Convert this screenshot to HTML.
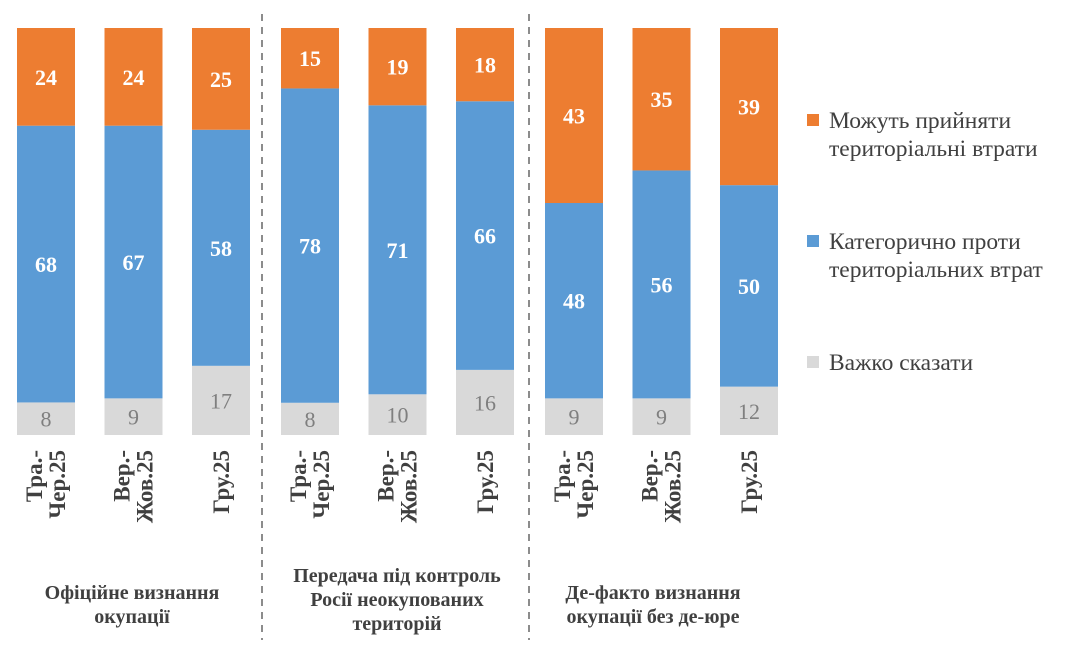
<!DOCTYPE html>
<html><head><meta charset="utf-8"><style>
html,body{margin:0;padding:0;background:#fff;}
svg{display:block;font-family:"Liberation Serif","DejaVu Serif",serif;}
</style></head><body>
<svg id="chart" width="1080" height="672" viewBox="0 0 1080 672">
<g id="bars"></g>
<g id="xlabels"></g>
<line x1="262" y1="14" x2="262" y2="640" stroke="#8c8c8c" stroke-width="2" stroke-dasharray="7,6"/>
<line x1="529" y1="14" x2="529" y2="640" stroke="#8c8c8c" stroke-width="2" stroke-dasharray="7,6"/>
<g font-weight="bold" font-size="20" fill="#404040" text-anchor="middle">
<text x="132" y="599"><tspan x="132">Офіційне визнання</tspan><tspan x="132" dy="24">окупації</tspan></text>
<text x="397" y="582"><tspan x="397">Передача під контроль</tspan><tspan x="397" dy="24">Росії неокупованих</tspan><tspan x="397" dy="24">територій</tspan></text>
<text x="653" y="599"><tspan x="653">Де-факто визнання</tspan><tspan x="653" dy="24">окупації без де-юре</tspan></text>
</g>
<g font-size="23.5" fill="#404040">
<rect x="807" y="114" width="12" height="12" fill="#ED7D31"/>
<text x="829" y="128"><tspan x="829">Можуть прийняти</tspan><tspan x="829" dy="28">територіальні втрати</tspan></text>
<rect x="807" y="235" width="12" height="12" fill="#5B9BD5"/>
<text x="829" y="249"><tspan x="829">Категорично проти</tspan><tspan x="829" dy="28">територіальних втрат</tspan></text>
<rect x="807" y="356" width="12" height="12" fill="#D9D9D9"/>
<text x="829" y="370">Важко сказати</text>
</g>
</svg>
<script>
const categories = ["Тра.-|Чер.25","Вер.-|Жов.25","Гру.25","Тра.-|Чер.25","Вер.-|Жов.25","Гру.25","Тра.-|Чер.25","Вер.-|Жов.25","Гру.25"];
const hardToSay = [8,9,17,8,10,16,9,9,12];
const against = [68,67,58,78,71,66,48,56,50];
const accept = [24,24,25,15,19,18,43,35,39];

const NS="http://www.w3.org/2000/svg";
const barsG=document.getElementById('bars');
const labG=document.getElementById('xlabels');
const plotTop=28, plotBottom=435, barW=58;
function xCenter(i){ const g=Math.floor(i/3), k=i%3; return 46 + g*264 + k*87.5; }
function yScale(cum,total){ return plotBottom - (cum/total)*(plotBottom-plotTop); }
function mk(tag,attrs){ const e=document.createElementNS(NS,tag); for(const k in attrs) e.setAttribute(k,attrs[k]); return e; }

categories.forEach((c,i)=>{
  const total=hardToSay[i]+against[i]+accept[i];
  const segs=[[hardToSay[i],'#D9D9D9','#7f7f7f','normal','hard'],[against[i],'#5B9BD5','#fff','bold','against'],[accept[i],'#ED7D31','#fff','bold','accept']];
  let cum=0; const cx=xCenter(i);
  segs.forEach(s=>{
    const y0=yScale(cum,total), y1=yScale(cum+s[0],total); cum+=s[0];
    const r=mk('rect',{x:cx-barW/2,y:y1,width:barW,height:y0-y1,fill:s[1]});
    
    
    barsG.appendChild(r);
    const t=mk('text',{x:cx,y:(y0+y1)/2+8,'text-anchor':'middle','font-size':'22',fill:s[2],'font-weight':s[3]});
    t.textContent=s[0];
    
    
    barsG.appendChild(t);
  });
  const parts=c.split('|');
  const g=mk('text',{transform:'translate('+cx+',450) rotate(-90)','text-anchor':'end','font-size':'23','font-weight':'bold',fill:'#404040'});
  
  
  if(parts.length===2){
    const a=mk('tspan',{x:0,y:-4}); a.textContent=parts[0];
    const b=mk('tspan',{x:0,y:19}); b.textContent=parts[1];
    g.appendChild(a); g.appendChild(b);
  } else {
    const a=mk('tspan',{x:0,y:8}); a.textContent=parts[0]; g.appendChild(a);
  }
  labG.appendChild(g);
});
</script>
</body></html>
